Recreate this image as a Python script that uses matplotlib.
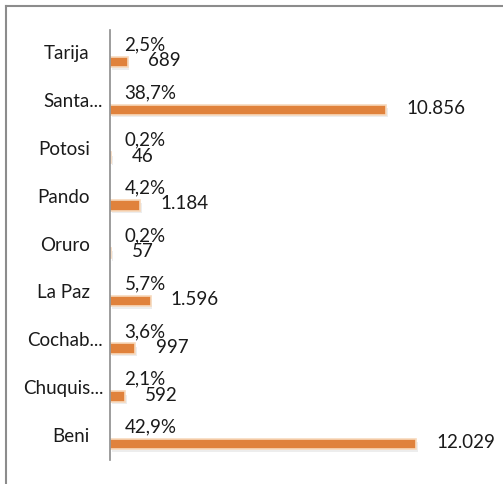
import matplotlib.pyplot as plt
from matplotlib.lines import Line2D

# departments, bottom to top as drawn
categories = ['Beni', 'Chuquis...', 'Cochab...', 'La Paz', 'Oruro',
              'Pando', 'Potosi', 'Santa...', 'Tarija']
counts = [12029, 592, 997, 1596, 57, 1184, 46, 10856, 689]
count_labels = ['12.029', '592', '997', '1.596', '57', '1.184', '46', '10.856', '689']
pct_labels = ['42,9%', '2,1%', '3,6%', '5,7%', '0,2%', '4,2%', '0,2%', '38,7%', '2,5%']

plt.rcParams['font.family'] = ['Lato', 'DejaVu Sans']
FS = 13.5

fig = plt.figure(figsize=(5.03, 4.84), dpi=100)
ax = fig.add_axes([110 / 503, 1 - 460 / 484, 380 / 503, 430 / 484])

ypos = list(range(len(categories)))
bar_y = [y - 0.17 for y in ypos]

# soft shadow under the bars
ax.barh([y - 0.06 for y in bar_y], counts, height=0.2, left=60,
        color='#e6e6e6', alpha=0.7, zorder=1)
ax.barh(bar_y, counts, height=0.22, color='#E0823C',
        edgecolor='#F7D9BC', linewidth=1.2, zorder=2)

for y, by, c, cl, pl in zip(ypos, bar_y, counts, count_labels, pct_labels):
    ax.annotate(cl, (c, by), xytext=(14.5, 1), textcoords='offset points',
                ha='left', va='center', fontsize=FS, color='#1a1a1a')
    ax.annotate(pl, (0, y + 0.19), xytext=(10.5, 0), textcoords='offset points',
                ha='left', va='center', fontsize=FS, color='#1a1a1a')

# category labels, truncated names stick out a bit past the others
for y, name in zip(ypos, categories):
    dx = -5 if name.endswith('...') else -14.5
    ax.annotate(name, (0, y), xycoords=('axes fraction', 'data'),
                xytext=(dx, 0), textcoords='offset points',
                ha='right', va='center', fontsize=FS, color='#1a1a1a')

ax.set_xlim(0, 14930)
ax.set_ylim(-0.5, 8.5)
ax.set_yticks([])
ax.set_xticks([])
for s in ['top', 'right', 'bottom']:
    ax.spines[s].set_visible(False)
ax.spines['left'].set_color('#8c8c8c')
ax.spines['left'].set_linewidth(1.2)

# outer frame (left and top only are visible)
fig.add_artist(Line2D([6 / 503, 6 / 503], [0, 1 - 6 / 484], color='#8c8c8c', lw=1.5))
fig.add_artist(Line2D([6 / 503, 1], [1 - 6 / 484, 1 - 6 / 484], color='#8c8c8c', lw=1.5))

plt.savefig('out.png', dpi=100)
